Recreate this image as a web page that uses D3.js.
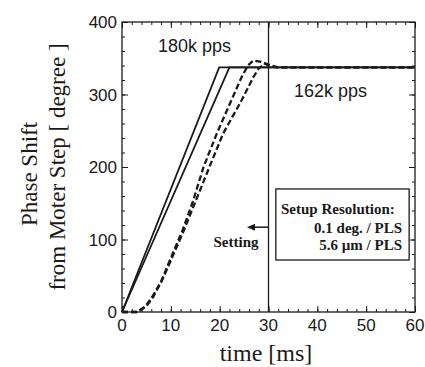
<!DOCTYPE html>
<html>
<head>
<meta charset="utf-8">
<script src="https://cdn.jsdelivr.net/npm/d3@7"></script>
<style>
  body { margin: 0; background: #fff; }
  svg { display: block; }
</style>
</head>
<body>
<svg id="chart" width="425" height="367"></svg>
<script>
'use strict';

// axis ticks
const timeTicks = [0, 10, 20, 30, 40, 50, 60];
const phaseTicks = [0, 100, 200, 300, 400];

// series, [time ms, phase deg]
const solid180 = [[0, 0], [19.9, 337.5], [60, 337.5]];
const solid162 = [[0, 0], [22, 337.5], [60, 337.5]];
const dashed180 = [[0, 0], [3, 0], [4.8, 8], [6.2, 21], [8, 42], [10.1, 76], [12.4, 113],
  [14.4, 150], [16.7, 200], [19.4, 246], [22.4, 292], [24.5, 324], [25.8, 340],
  [26.9, 347], [28.5, 345], [30, 340], [31.5, 337.5], [60, 337.5]];
const dashed162 = [[0, 0], [3.3, 0], [5, 8], [6.4, 21], [8.1, 42], [10.3, 76], [12.7, 113],
  [14.9, 150], [17.9, 200], [20.7, 246], [24.5, 292], [26.9, 324], [28, 336],
  [29.3, 343], [30.6, 340], [32, 337.5], [60, 337.5]];

const settingTime = 30;
const arrowPhase = 117;
const arrowEnd = 25.6;

const margin = { top: 22, right: 10, bottom: 55, left: 122 };
const width = 425, height = 367;

const svg = d3.select('#chart');
const x = d3.scaleLinear().domain([0, 60]).range([margin.left, width - margin.right]);
const y = d3.scaleLinear().domain([0, 400]).range([height - margin.bottom, margin.top]);

const sans = 'Arial, "Liberation Sans", Helvetica, sans-serif';
const serif = '"Times New Roman", "Liberation Serif", Times, serif';
const ink = '#1a1a1a';

// minor + major inward ticks on all four sides
function tickAxis(axis, scale, values, size, transform) {
  svg.append('g')
    .attr('transform', transform)
    .call(axis(scale).tickValues(values).tickSize(size).tickFormat(''))
    .call(g => g.select('.domain').remove())
    .call(g => g.selectAll('line').attr('stroke', ink).attr('stroke-width', 1));
}
const minorT = d3.range(0, 61, 2);
const minorP = d3.range(0, 401, 20);
tickAxis(d3.axisBottom, x, minorT, -3, `translate(0,${y(0)})`);
tickAxis(d3.axisBottom, x, timeTicks, -6, `translate(0,${y(0)})`);
tickAxis(d3.axisTop, x, minorT, -3, `translate(0,${y(400)})`);
tickAxis(d3.axisTop, x, timeTicks, -6, `translate(0,${y(400)})`);
tickAxis(d3.axisLeft, y, minorP, -3, `translate(${x(0)},0)`);
tickAxis(d3.axisLeft, y, phaseTicks, -6, `translate(${x(0)},0)`);
tickAxis(d3.axisRight, y, minorP, -3, `translate(${x(60)},0)`);
tickAxis(d3.axisRight, y, phaseTicks, -6, `translate(${x(60)},0)`);

// tick labels
svg.append('g').selectAll('text').data(timeTicks).join('text')
  .attr('x', d => x(d)).attr('y', 331)
  .attr('text-anchor', 'middle')
  .style('font-family', sans).style('font-size', '17px').attr('fill', ink)
  .text(d => d);
svg.append('g').selectAll('text').data(phaseTicks).join('text')
  .attr('x', 117).attr('y', d => y(d) + 6)
  .attr('text-anchor', 'end')
  .style('font-family', sans).style('font-size', '17px').attr('fill', ink)
  .text(d => d);

// frame
svg.append('rect')
  .attr('x', x(0)).attr('y', y(400))
  .attr('width', x(60) - x(0)).attr('height', y(0) - y(400))
  .attr('fill', 'none').attr('stroke', ink).attr('stroke-width', 1.3);

// setting line
svg.append('line')
  .attr('x1', x(settingTime)).attr('x2', x(settingTime))
  .attr('y1', y(400)).attr('y2', y(0))
  .attr('stroke', ink).attr('stroke-width', 1.3);

const line = d3.line().x(d => x(d[0])).y(d => y(d[1]));

[dashed180, dashed162].forEach(s => {
  svg.append('path').attr('d', line(s))
    .attr('fill', 'none').attr('stroke', ink).attr('stroke-width', 2.3)
    .attr('stroke-dasharray', '6,3');
});
[solid180, solid162].forEach(s => {
  svg.append('path').attr('d', line(s))
    .attr('fill', 'none').attr('stroke', ink).attr('stroke-width', 1.8);
});

// arrow to the setting label
svg.append('line')
  .attr('x1', x(settingTime)).attr('x2', x(arrowEnd) + 6)
  .attr('y1', y(arrowPhase)).attr('y2', y(arrowPhase))
  .attr('stroke', ink).attr('stroke-width', 1.5);
svg.append('path')
  .attr('d', `M${x(arrowEnd)},${y(arrowPhase)} l8,-3.5 l0,7 z`)
  .attr('fill', ink);
svg.append('text')
  .attr('x', 236).attr('y', 247).attr('text-anchor', 'middle')
  .style('font-family', serif).style('font-size', '15px').style('font-weight', 'bold')
  .attr('fill', ink).text('Setting');

// resolution box
svg.append('rect')
  .attr('x', x(31.5)).attr('y', y(169.7))
  .attr('width', x(58.8) - x(31.5)).attr('height', y(71.7) - y(169.7))
  .attr('fill', '#fff').attr('stroke', ink).attr('stroke-width', 1.3);
const boxText = svg.append('g')
  .style('font-family', serif).style('font-size', '15px').style('font-weight', 'bold')
  .attr('fill', ink);
boxText.append('text').attr('x', 281).attr('y', 214).text('Setup Resolution:');
boxText.append('text').attr('x', 402).attr('y', 233).attr('text-anchor', 'end').text('0.1 deg. / PLS');
boxText.append('text').attr('x', 402).attr('y', 250).attr('text-anchor', 'end').text('5.6 \u00b5m / PLS');

// speed labels
svg.append('text').attr('x', 158).attr('y', 52)
  .style('font-family', sans).style('font-size', '18px').attr('fill', ink).text('180k pps');
svg.append('text').attr('x', 294).attr('y', 97)
  .style('font-family', sans).style('font-size', '18px').attr('fill', ink).text('162k pps');

// axis titles
svg.append('text').attr('x', 266).attr('y', 361).attr('text-anchor', 'middle')
  .style('font-family', serif).style('font-size', '24px').attr('fill', ink).text('time [ms]');
const yTitle = svg.append('g')
  .attr('transform', 'translate(0,170) rotate(-90)')
  .style('font-family', serif).style('font-size', '23px').attr('fill', ink)
  .attr('text-anchor', 'middle');
yTitle.append('text').attr('x', -4).attr('y', 37).text('Phase Shift');
yTitle.append('text').attr('x', 3).attr('y', 65).text('from Moter Step [ degree ]');
</script>
</body>
</html>
